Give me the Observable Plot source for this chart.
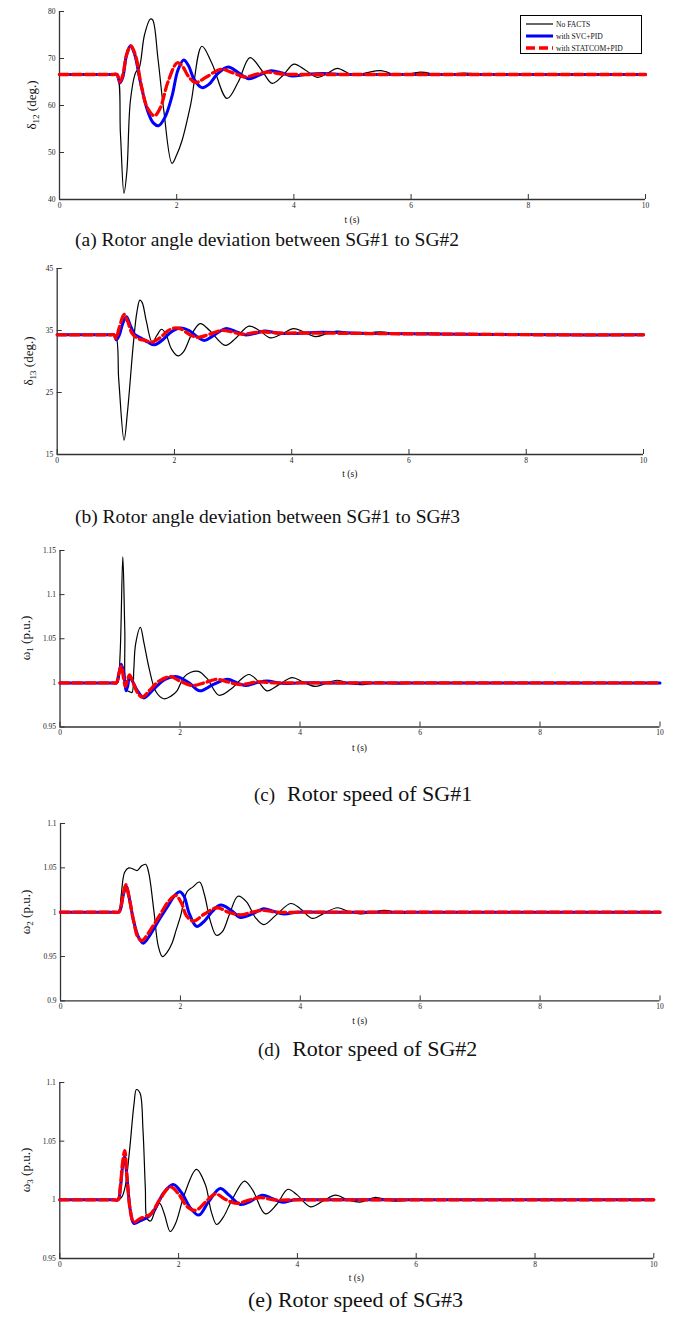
<!DOCTYPE html>
<html><head><meta charset="utf-8">
<script src="https://cdn.jsdelivr.net/npm/d3@7"></script>
<script src="https://cdn.jsdelivr.net/npm/@observablehq/plot@0.6"></script>
<style>
body{margin:0;background:#fff;width:674px;height:1319px;position:relative;font-family:"Liberation Serif","Times New Roman",serif;overflow:hidden;color:#111}
.panel{position:absolute;left:0}
.cap{position:absolute;white-space:nowrap;line-height:1;transform:translateY(-50%)}
.cap .sm{font-size:19px;margin-right:12px}
.tl{position:absolute;font-size:9.5px;line-height:1;white-space:nowrap;transform:translate(-50%,-50%)}
.yl{position:absolute;font-size:13px;line-height:1;white-space:nowrap;transform:translate(-50%,-50%) rotate(-90deg)}
.yl sub{font-size:9px}
.legend{position:absolute;border:1px solid #000;background:#fff;box-sizing:border-box}
.legend .row{position:absolute;left:5px;height:12px;display:flex;align-items:center;font-size:7.6px;white-space:nowrap}
.legend svg{margin-right:3px}
</style></head><body>
<script>
// ---------- data (t in s, value) ----------
const seriesNames = ["No FACTS", "with SVC+PID", "with STATCOM+PID"];
const xTicks = [0, 2, 4, 6, 8, 10];

// (a) delta12 (deg.)
const a_yTicks = [40, 50, 60, 70, 80];
const a_noFacts = [[0,66.6],[0.9,66.6],[0.98,66.6],[1.04,54],[1.1,41.3],[1.15,46],[1.21,61],[1.3,67],[1.36,68],[1.45,75],[1.55,78.4],[1.59,78.2],[1.68,70],[1.78,58.9],[1.92,47.7],[2.0,49.5],[2.09,52.5],[2.24,60.3],[2.43,72.6],[2.6,69],[2.86,61.5],[3.05,65],[3.25,70.2],[3.45,67.5],[3.63,64.7],[3.82,66.5],[4.0,68.8],[4.2,67.5],[4.4,66.0],[4.57,66.8],[4.74,67.9],[5.02,66.4],[5.25,67.0],[5.48,67.4],[5.8,66.4],[6.16,67.1],[6.5,66.5],[6.9,66.9],[7.3,66.6],[7.8,66.6],[8.5,66.6],[10,66.6]];
const a_svc = [[0,66.6],[0.9,66.6],[0.98,66.6],[1.03,64.8],[1.08,66],[1.14,70.5],[1.21,72.7],[1.28,71],[1.38,65],[1.5,59],[1.6,56.3],[1.69,55.7],[1.8,57.5],[1.92,62],[2.02,67.5],[2.12,69.7],[2.2,68.5],[2.3,65.5],[2.43,63.8],[2.55,64.5],[2.7,66.8],[2.88,68.2],[3.05,67],[3.23,65.7],[3.42,66.5],[3.61,67.4],[3.8,66.9],[3.97,66.3],[4.2,66.6],[4.5,66.8],[4.8,66.6],[5.2,66.6],[6,66.6],[10,66.6]];
const a_statcom = [[0,66.6],[0.9,66.6],[0.98,66.6],[1.03,65],[1.08,66.5],[1.15,71],[1.22,72.7],[1.3,70.5],[1.4,64],[1.5,59.5],[1.62,57.8],[1.72,59.5],[1.85,65],[2.01,69.1],[2.1,68.3],[2.2,66.2],[2.32,64.9],[2.5,66],[2.75,67.7],[2.95,67],[3.17,66.1],[3.35,66.6],[3.55,67.1],[3.8,66.7],[4.1,66.6],[4.5,66.6],[5.2,66.6],[10,66.6]];

// (b) delta13 (deg.)
const b_yTicks = [15, 25, 35, 45];
const b_noFacts = [[0,34.3],[0.9,34.3],[0.99,34.3],[1.05,27],[1.14,17.3],[1.2,22],[1.3,33],[1.36,38],[1.41,39.9],[1.45,39.5],[1.52,36.5],[1.62,33.1],[1.7,34.2],[1.78,35.2],[1.85,34.5],[1.95,32],[2.06,30.9],[2.15,31.5],[2.3,34.5],[2.44,36.1],[2.6,35],[2.87,32.6],[3.05,33.8],[3.27,35.7],[3.45,35],[3.64,33.8],[3.84,34.5],[4.03,35.3],[4.2,34.8],[4.4,34.0],[4.6,34.5],[4.77,34.9],[5.1,34.4],[5.5,34.8],[5.9,34.4],[6.3,34.6],[6.8,34.4],[7.3,34.35],[8.5,34.3],[10,34.3]];
const b_svc = [[0,34.3],[0.9,34.3],[0.97,34.3],[1.01,33.5],[1.06,34.3],[1.12,36.2],[1.18,37.2],[1.24,36],[1.32,34.4],[1.43,33.8],[1.55,33.1],[1.66,32.7],[1.8,33.5],[1.95,34.8],[2.1,35.4],[2.25,35],[2.4,33.9],[2.51,33.4],[2.65,34.1],[2.87,35.3],[3.03,34.9],[3.2,34.3],[3.36,34.5],[3.53,34.9],[3.75,34.6],[4,34.5],[4.5,34.7],[5.5,34.5],[7,34.4],[8.5,34.3],[10,34.3]];
const b_statcom = [[0,34.3],[0.9,34.3],[0.97,34.3],[1.0,33.7],[1.06,35.5],[1.14,37.6],[1.2,36.5],[1.28,34.5],[1.38,33.7],[1.5,33.4],[1.61,33.1],[1.75,33.8],[1.88,34.9],[2.0,35.4],[2.12,35.2],[2.25,34.4],[2.4,33.9],[2.6,34.4],[2.8,35.0],[2.98,34.8],[3.15,34.4],[3.33,34.6],[3.5,34.8],[3.75,34.6],[4.2,34.6],[5.5,34.5],[7,34.4],[8.5,34.3],[10,34.3]];

// (c) omega1 (p.u.)
const c_yTicks = [0.95, 1, 1.05, 1.1, 1.15];
const c_noFacts = [[0,1],[0.9,1],[0.96,1.0],[1.0,1.03],[1.047,1.143],[1.08,1.06],[1.11,0.992],[1.16,0.99],[1.2,0.989],[1.23,1.015],[1.26,1.044],[1.34,1.063],[1.4,1.045],[1.49,1.015],[1.6,0.99],[1.73,0.982],[1.85,0.985],[1.95,0.991],[2.06,1.006],[2.18,1.012],[2.31,1.013],[2.45,1.005],[2.65,0.986],[2.85,0.993],[3.0,1.003],[3.15,1.0095],[3.3,1.002],[3.45,0.991],[3.65,0.998],[3.87,1.006],[4.05,1.001],[4.26,0.996],[4.45,1.0],[4.62,1.003],[4.85,0.999],[5.05,0.998],[5.3,1.001],[5.6,0.999],[6.0,1.0],[6.5,1.0],[7.5,1],[10,1]];
const c_svc = [[0,1],[0.88,1],[0.94,1.0],[0.98,1.01],[1.02,1.021],[1.06,1.012],[1.1,0.991],[1.13,0.997],[1.16,1.008],[1.2,1.003],[1.3,0.99],[1.4,0.983],[1.55,0.992],[1.75,1.004],[1.95,1.007],[2.15,1.0],[2.33,0.991],[2.55,0.998],[2.79,1.004],[2.95,1.0],[3.09,0.997],[3.27,1.0],[3.45,1.002],[3.7,0.9995],[4.0,1.0],[4.4,1.0],[5.2,1],[10,1]];
const c_statcom = [[0,1],[0.88,1],[0.94,1.0],[0.98,1.01],[1.02,1.019],[1.06,1.005],[1.09,0.996],[1.12,1.002],[1.16,1.009],[1.22,1.0],[1.3,0.988],[1.37,0.984],[1.5,0.992],[1.65,1.002],[1.84,1.007],[2.0,1.002],[2.2,0.997],[2.4,1.0],[2.62,1.004],[2.8,1.001],[3.0,0.998],[3.3,1.001],[3.6,1.0],[4.0,1.0],[4.8,1],[10,1]];

// (d) omega2 (p.u.)
const d_yTicks = [0.9, 0.95, 1, 1.05, 1.1];
const d_noFacts = [[0,1],[0.9,1],[0.97,1.0],[1.01,1.018],[1.07,1.045],[1.14,1.05],[1.2,1.049],[1.28,1.047],[1.35,1.052],[1.42,1.054],[1.47,1.045],[1.56,1.0],[1.63,0.962],[1.7,0.950],[1.78,0.955],[1.86,0.965],[1.93,0.98],[2.0,0.995],[2.11,1.023],[2.2,1.028],[2.32,1.034],[2.4,1.02],[2.5,0.99],[2.6,0.974],[2.7,0.978],[2.82,0.998],[2.96,1.018],[3.1,1.012],[3.25,0.994],[3.39,0.986],[3.6,0.997],[3.84,1.0098],[4.0,1.004],[4.2,0.993],[4.4,0.999],[4.62,1.005],[4.8,1.001],[5.0,0.998],[5.2,1.0],[5.4,1.002],[5.7,0.999],[6.0,1.0],[6.5,1.0],[7.5,1],[10,1]];
const d_svc = [[0,1],[0.9,1],[0.97,1.0],[1.0,1.003],[1.05,1.02],[1.1,1.029],[1.15,1.015],[1.22,0.99],[1.3,0.972],[1.38,0.965],[1.5,0.975],[1.65,0.992],[1.8,1.008],[1.92,1.02],[1.99,1.023],[2.06,1.018],[2.15,0.998],[2.27,0.984],[2.4,0.99],[2.52,1.0],[2.67,1.008],[2.85,1.002],[3.0,0.994],[3.2,0.998],[3.39,1.004],[3.55,1.001],[3.73,0.998],[3.95,1.0],[4.3,1.0],[5.0,1],[10,1]];
const d_statcom = [[0,1],[0.9,1],[0.97,1.0],[1.0,1.004],[1.05,1.022],[1.09,1.031],[1.14,1.018],[1.22,0.99],[1.29,0.972],[1.36,0.968],[1.5,0.98],[1.65,0.996],[1.8,1.012],[1.92,1.019],[2.02,1.01],[2.1,0.996],[2.22,0.99],[2.4,0.998],[2.61,1.005],[2.8,1.0],[3.0,0.997],[3.2,1.0],[3.39,1.002],[3.6,1.0],[4.0,1.0],[4.8,1],[10,1]];

// (e) omega3 (p.u.)
const e_yTicks = [0.95, 1, 1.05, 1.1];
const e_noFacts = [[0,1],[0.9,1],[0.99,1.0],[1.05,1.003],[1.1,1.011],[1.17,1.04],[1.25,1.082],[1.29,1.094],[1.35,1.091],[1.4,1.06],[1.44,1.01],[1.47,0.984],[1.53,0.982],[1.6,0.99],[1.68,0.997],[1.76,0.988],[1.86,0.973],[1.95,0.98],[2.1,1.005],[2.3,1.026],[2.45,1.013],[2.55,0.99],[2.64,0.979],[2.75,0.985],[2.9,1.0],[3.11,1.016],[3.25,1.008],[3.46,0.988],[3.65,0.996],[3.84,1.009],[4.0,1.004],[4.22,0.994],[4.43,0.999],[4.64,1.004],[4.85,1.0],[5.05,0.998],[5.3,1.002],[5.6,0.999],[6.0,1.0],[6.5,1.0],[7.5,1],[10,1]];
const e_svc = [[0,1],[0.9,1],[0.98,1.0],[1.02,1.01],[1.06,1.03],[1.09,1.037],[1.13,1.02],[1.19,0.99],[1.246,0.980],[1.35,0.982],[1.5,0.986],[1.6,0.992],[1.75,1.006],[1.91,1.013],[2.05,1.006],[2.2,0.993],[2.34,0.987],[2.5,0.998],[2.7,1.0097],[2.85,1.004],[3.04,0.996],[3.22,0.999],[3.41,1.004],[3.58,1.001],[3.75,0.998],[3.95,1.0],[4.3,1.0],[5.0,1],[10,1]];
const e_statcom = [[0,1],[0.9,1],[0.98,1.0],[1.02,1.012],[1.06,1.033],[1.094,1.042],[1.13,1.02],[1.19,0.99],[1.246,0.981],[1.35,0.984],[1.53,0.988],[1.68,1.0],[1.86,1.011],[2.0,1.005],[2.15,0.994],[2.29,0.991],[2.45,0.998],[2.62,1.005],[2.8,1.0],[2.98,0.997],[3.2,1.0],[3.38,1.002],[3.6,1.0],[4.0,1.0],[4.8,1],[10,1]];

// ---------- layout ----------
const seriesStyles = [
  {stroke: "#000000", strokeWidth: 1.2},
  {stroke: "#0000ff", strokeWidth: 3},
  {stroke: "#ff0000", strokeWidth: 3.3, strokeDasharray: "9,4"}
];
const panels = [
  {series: [a_noFacts, a_svc, a_statcom], yDomain: [40, 80], yTicks: a_yTicks, x0: 59, x10: 645, yTop: 10.7, yBot: 198.7,
   ylab: "δ<sub>12</sub> (deg.)", ylx: 33, cap: "(a) Rotor angle deviation between SG#1 to SG#2", capX: 75, capY: 240, capSize: 19.5, tsY: 221},
  {series: [b_noFacts, b_svc, b_statcom], yDomain: [15, 45], yTicks: b_yTicks, x0: 56.7, x10: 643, yTop: 268.3, yBot: 454.3,
   ylab: "δ<sub>13</sub> (deg.)", ylx: 30, cap: "(b) Rotor angle deviation between SG#1 to SG#3", capX: 75, capY: 517, capSize: 19.5, tsY: 475},
  {series: [c_noFacts, c_svc, c_statcom], yDomain: [0.95, 1.15], yTicks: c_yTicks, x0: 59.5, x10: 659.5, yTop: 550, yBot: 726.5,
   ylab: "ω<sub>1</sub> (p.u.)", ylx: 27, cap: ["(c)", "Rotor speed of SG#1"], capX: 254, capY: 794, capSize: 22, tsY: 749},
  {series: [d_noFacts, d_svc, d_statcom], yDomain: [0.9, 1.1], yTicks: d_yTicks, x0: 60, x10: 659.5, yTop: 823.3, yBot: 1000.7,
   ylab: "ω<sub>2</sub> (p.u.)", ylx: 27, cap: ["(d)", "Rotor speed of SG#2"], capX: 258, capY: 1049, capSize: 22, tsY: 1022},
  {series: [e_noFacts, e_svc, e_statcom], yDomain: [0.95, 1.1], yTicks: e_yTicks, x0: 59.3, x10: 653.3, yTop: 1082.3, yBot: 1258.3,
   ylab: "ω<sub>3</sub> (p.u.)", ylx: 27, cap: "(e) Rotor speed of SG#3", capX: 248, capY: 1300, capSize: 22, tsY: 1279}
];

function el(tag, cls, html, style) {
  const e = document.createElement(tag);
  if (cls) e.className = cls;
  if (html != null) e.innerHTML = html;
  if (style) Object.assign(e.style, style);
  document.body.appendChild(e);
  return e;
}

panels.forEach((p) => {
  const mt = 14, mb = 20;
  const H = (p.yBot - p.yTop) + mt + mb;
  const fmt = (d) => String(d);
  const marks = [
    Plot.axisX({ticks: xTicks, tickSize: 0, tickPadding: 3, tickFormat: fmt, label: null}),
    Plot.axisX({ticks: xTicks, tickSize: -5, tickFormat: () => "", label: null, stroke: "#333"}),
    Plot.axisY({ticks: p.yTicks, tickSize: 0, tickPadding: 4, tickFormat: fmt, label: null}),
    Plot.axisY({ticks: p.yTicks, tickSize: -5, tickFormat: () => "", label: null, stroke: "#333"}),
    Plot.ruleX([xTicks[0]], {stroke: "#333", strokeWidth: 1.3}),
    Plot.ruleY([p.yDomain[0]], {stroke: "#333", strokeWidth: 1.3})
  ];
  p.series.forEach((s, i) => {
    marks.push(Plot.line(s, {x: (d) => d[0], y: (d) => d[1], curve: "catmull-rom", ...seriesStyles[i]}));
  });
  const chart = Plot.plot({
    width: 674, height: H,
    marginLeft: p.x0, marginRight: 674 - p.x10, marginTop: mt, marginBottom: mb,
    x: {domain: [xTicks[0], xTicks[xTicks.length - 1]]},
    y: {domain: p.yDomain},
    style: {fontFamily: "'Liberation Serif', serif", fontSize: "7.5px", color: "#222", background: "transparent", overflow: "visible"},
    marks
  });
  const wrap = el("div", "panel", null, {top: (p.yTop - mt) + "px"});
  wrap.appendChild(chart);
  // axis titles
  el("div", "tl", "t (s)", {left: ((p.x0 + p.x10) / 2) + "px", top: p.tsY + "px"});
  el("div", "yl", p.ylab, {left: p.ylx + "px", top: ((p.yTop + p.yBot) / 2) + "px"});
  // caption
  const c = el("div", "cap", null, {left: p.capX + "px", top: p.capY + "px", fontSize: p.capSize + "px"});
  if (Array.isArray(p.cap)) {
    const s1 = document.createElement("span"); s1.className = "sm"; s1.textContent = p.cap[0];
    const s2 = document.createElement("span"); s2.textContent = p.cap[1];
    c.appendChild(s1); c.appendChild(s2);
  } else c.textContent = p.cap;
});

// legend (panel a)
const lg = el("div", "legend", null, {left: "520px", top: "14.7px", width: "122px", height: "39.5px"});
seriesNames.forEach((name, i) => {
  const row = document.createElement("div");
  row.className = "row";
  row.style.top = (2.5 + i * 12) + "px";
  const st = seriesStyles[i];
  row.innerHTML = `<svg width="27" height="6"><line x1="0" x2="27" y1="3" y2="3" stroke="${st.stroke}" stroke-width="${st.strokeWidth}" ${st.strokeDasharray ? `stroke-dasharray="${st.strokeDasharray}"` : ""}/></svg><span>${name}</span>`;
  lg.appendChild(row);
});
</script>
</body></html>
